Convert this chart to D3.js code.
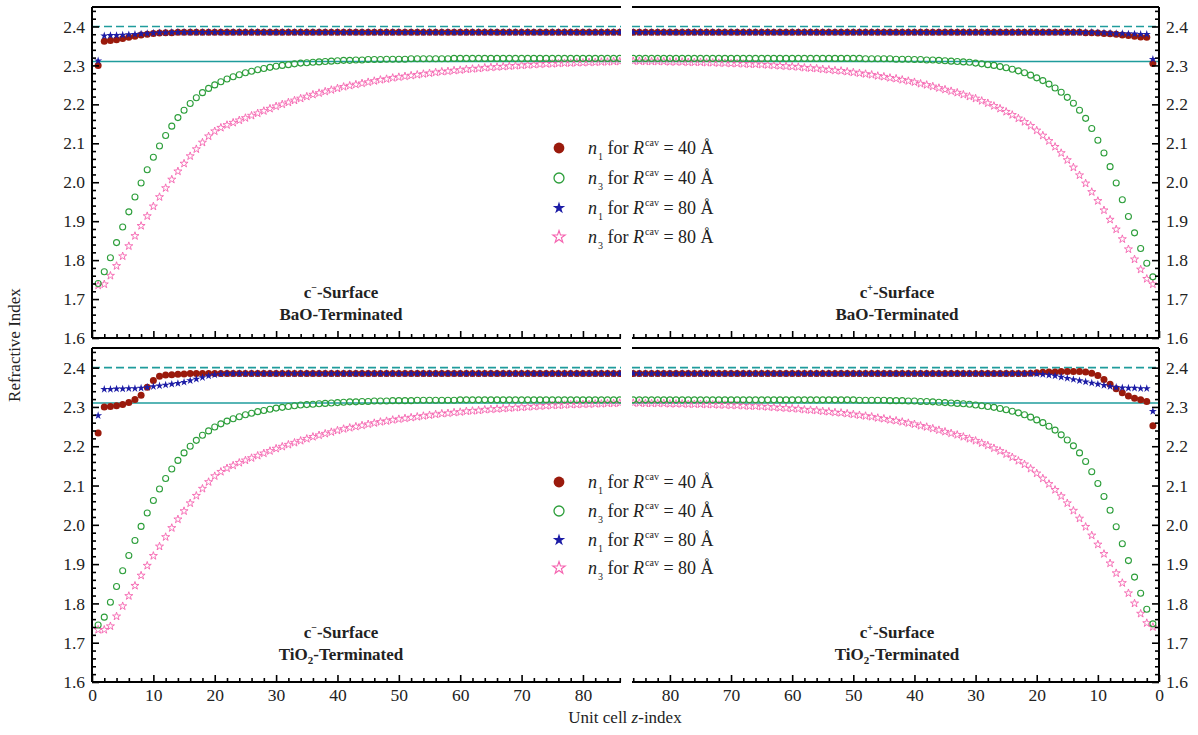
<!DOCTYPE html>
<html>
<head>
<meta charset="utf-8">
<script src="https://cdn.jsdelivr.net/npm/d3@7"></script>
<style>
  html, body { margin: 0; padding: 0; background: #fff; }
  svg { display: block; }
  text { font-family: "Liberation Serif", "Times New Roman", serif; fill: #222; }
</style>
</head>
<body>
<svg id="chart" width="1198" height="735"></svg>
<script>
// Unit-cell index along z (counted from each surface)
const zIndex = d3.range(1, 87);

// Reference refractive-index levels
const dashedLevel = 2.40;
const solidLevel = 2.31;

const yTicks = [1.6, 1.7, 1.8, 1.9, 2.0, 2.1, 2.2, 2.3, 2.4];
const xTicks = [0, 10, 20, 30, 40, 50, 60, 70, 80];

// c- surface, BaO terminated
const cmBaO_n1_40 = [2.300,2.362,2.364,2.366,2.369,2.372,2.375,2.378,2.380,2.382,
  2.383,2.384,2.384,2.385,2.385,2.385,2.385,2.385,2.385,2.385,
  2.385,2.385,2.385,2.385,2.385,2.385,2.385,2.385,2.385,2.385,
  2.385,2.385,2.385,2.385,2.385,2.385,2.385,2.385,2.385,2.385,
  2.385,2.385,2.385,2.385,2.385,2.385,2.385,2.385,2.385,2.385,
  2.385,2.385,2.385,2.385,2.385,2.385,2.385,2.385,2.385,2.385,
  2.385,2.385,2.385,2.385,2.385,2.385,2.385,2.385,2.385,2.385,
  2.385,2.385,2.385,2.385,2.385,2.385,2.385,2.385,2.385,2.385,
  2.385,2.385,2.385,2.385,2.385,2.385];
const cmBaO_n3_40 = [1.740,1.770,1.806,1.845,1.885,1.924,1.962,1.998,2.032,2.064,
  2.093,2.120,2.144,2.166,2.185,2.202,2.217,2.230,2.241,2.250,
  2.258,2.265,2.271,2.276,2.281,2.285,2.289,2.292,2.295,2.298,
  2.300,2.302,2.304,2.306,2.307,2.308,2.309,2.310,2.311,2.312,
  2.313,2.313,2.314,2.314,2.315,2.315,2.315,2.316,2.316,2.316,
  2.316,2.317,2.317,2.317,2.317,2.317,2.317,2.317,2.318,2.318,
  2.318,2.318,2.318,2.318,2.318,2.318,2.318,2.318,2.318,2.318,
  2.318,2.318,2.318,2.318,2.318,2.318,2.318,2.318,2.318,2.318,
  2.318,2.318,2.318,2.318,2.318,2.318];
const cmBaO_n1_80 = [2.312,2.376,2.377,2.377,2.378,2.379,2.380,2.381,2.382,2.383,
  2.384,2.384,2.385,2.385,2.385,2.385,2.385,2.385,2.385,2.385,
  2.385,2.385,2.385,2.385,2.385,2.385,2.385,2.385,2.385,2.385,
  2.385,2.385,2.385,2.385,2.385,2.385,2.385,2.385,2.385,2.385,
  2.385,2.385,2.385,2.385,2.385,2.385,2.385,2.385,2.385,2.385,
  2.385,2.385,2.385,2.385,2.385,2.385,2.385,2.385,2.385,2.385,
  2.385,2.385,2.385,2.385,2.385,2.385,2.385,2.385,2.385,2.385,
  2.385,2.385,2.385,2.385,2.385,2.385,2.385,2.385,2.385,2.385,
  2.385,2.385,2.385,2.385,2.385,2.385];
const cmBaO_n3_80 = [1.735,1.738,1.760,1.785,1.810,1.836,1.862,1.888,1.913,1.938,
  1.962,1.985,2.007,2.028,2.048,2.067,2.085,2.102,2.118,2.131,
  2.140,2.147,2.153,2.159,2.165,2.171,2.177,2.183,2.189,2.195,
  2.200,2.205,2.210,2.215,2.220,2.225,2.229,2.233,2.237,2.241,
  2.245,2.248,2.251,2.254,2.257,2.260,2.263,2.265,2.268,2.270,
  2.272,2.274,2.276,2.278,2.280,2.282,2.284,2.285,2.287,2.288,
  2.290,2.291,2.292,2.294,2.295,2.296,2.297,2.298,2.299,2.300,
  2.301,2.302,2.303,2.304,2.304,2.305,2.306,2.306,2.307,2.307,
  2.308,2.308,2.309,2.309,2.310,2.310];

// c+ surface, BaO terminated
const cpBaO_n1_40 = [2.305,2.372,2.373,2.375,2.377,2.378,2.380,2.381,2.382,2.383,
  2.384,2.384,2.385,2.385,2.385,2.385,2.385,2.385,2.385,2.385,
  2.385,2.385,2.385,2.385,2.385,2.385,2.385,2.385,2.385,2.385,
  2.385,2.385,2.385,2.385,2.385,2.385,2.385,2.385,2.385,2.385,
  2.385,2.385,2.385,2.385,2.385,2.385,2.385,2.385,2.385,2.385,
  2.385,2.385,2.385,2.385,2.385,2.385,2.385,2.385,2.385,2.385,
  2.385,2.385,2.385,2.385,2.385,2.385,2.385,2.385,2.385,2.385,
  2.385,2.385,2.385,2.385,2.385,2.385,2.385,2.385,2.385,2.385,
  2.385,2.385,2.385,2.385,2.385,2.385];
const cpBaO_n3_40 = [1.757,1.792,1.830,1.870,1.912,1.955,1.998,2.040,2.075,2.108,
  2.138,2.164,2.185,2.203,2.218,2.231,2.242,2.252,2.261,2.268,
  2.275,2.281,2.286,2.290,2.294,2.297,2.300,2.302,2.304,2.306,
  2.308,2.309,2.310,2.311,2.312,2.313,2.314,2.314,2.315,2.315,
  2.316,2.316,2.316,2.317,2.317,2.317,2.317,2.317,2.318,2.318,
  2.318,2.318,2.318,2.318,2.318,2.318,2.318,2.318,2.318,2.318,
  2.318,2.318,2.318,2.318,2.318,2.318,2.318,2.318,2.318,2.318,
  2.318,2.318,2.318,2.318,2.318,2.318,2.318,2.318,2.318,2.318,
  2.318,2.318,2.318,2.318,2.318,2.318];
const cpBaO_n1_80 = [2.316,2.380,2.380,2.381,2.381,2.382,2.382,2.383,2.384,2.384,
  2.385,2.385,2.385,2.385,2.385,2.385,2.385,2.385,2.385,2.385,
  2.385,2.385,2.385,2.385,2.385,2.385,2.385,2.385,2.385,2.385,
  2.385,2.385,2.385,2.385,2.385,2.385,2.385,2.385,2.385,2.385,
  2.385,2.385,2.385,2.385,2.385,2.385,2.385,2.385,2.385,2.385,
  2.385,2.385,2.385,2.385,2.385,2.385,2.385,2.385,2.385,2.385,
  2.385,2.385,2.385,2.385,2.385,2.385,2.385,2.385,2.385,2.385,
  2.385,2.385,2.385,2.385,2.385,2.385,2.385,2.385,2.385,2.385,
  2.385,2.385,2.385,2.385,2.385,2.385];
const cpBaO_n3_80 = [1.738,1.752,1.776,1.802,1.828,1.854,1.879,1.904,1.928,1.952,
  1.975,1.997,2.018,2.038,2.057,2.075,2.091,2.106,2.120,2.133,
  2.145,2.155,2.164,2.173,2.181,2.189,2.196,2.203,2.209,2.215,
  2.220,2.225,2.230,2.234,2.238,2.242,2.246,2.250,2.253,2.257,
  2.260,2.263,2.266,2.268,2.271,2.273,2.276,2.278,2.280,2.282,
  2.284,2.286,2.287,2.289,2.290,2.292,2.293,2.294,2.296,2.297,
  2.298,2.299,2.300,2.301,2.302,2.303,2.303,2.304,2.305,2.305,
  2.306,2.306,2.307,2.307,2.308,2.308,2.308,2.309,2.309,2.309,
  2.310,2.310,2.310,2.310,2.311,2.311];

// c- surface, TiO2 terminated
const cmTiO2_n1_40 = [2.234,2.300,2.301,2.303,2.306,2.311,2.319,2.330,2.350,2.367,
  2.378,2.381,2.382,2.383,2.384,2.385,2.385,2.385,2.385,2.385,
  2.385,2.385,2.385,2.385,2.385,2.385,2.385,2.385,2.385,2.385,
  2.385,2.385,2.385,2.385,2.385,2.385,2.385,2.385,2.385,2.385,
  2.385,2.385,2.385,2.385,2.385,2.385,2.385,2.385,2.385,2.385,
  2.385,2.385,2.385,2.385,2.385,2.385,2.385,2.385,2.385,2.385,
  2.385,2.385,2.385,2.385,2.385,2.385,2.385,2.385,2.385,2.385,
  2.385,2.385,2.385,2.385,2.385,2.385,2.385,2.385,2.385,2.385,
  2.385,2.385,2.385,2.385,2.385,2.385];
const cmTiO2_n3_40 = [1.745,1.765,1.803,1.843,1.883,1.922,1.960,1.996,2.030,2.062,
  2.091,2.118,2.142,2.164,2.183,2.200,2.215,2.228,2.239,2.249,
  2.257,2.264,2.270,2.275,2.280,2.284,2.288,2.291,2.294,2.297,
  2.299,2.301,2.303,2.305,2.306,2.307,2.308,2.309,2.310,2.311,
  2.312,2.313,2.313,2.314,2.314,2.315,2.315,2.315,2.316,2.316,
  2.316,2.316,2.317,2.317,2.317,2.317,2.317,2.317,2.317,2.318,
  2.318,2.318,2.318,2.318,2.318,2.318,2.318,2.318,2.318,2.318,
  2.318,2.318,2.318,2.318,2.318,2.318,2.318,2.318,2.318,2.318,
  2.318,2.318,2.318,2.318,2.318,2.318];
const cmTiO2_n1_80 = [2.278,2.345,2.345,2.346,2.346,2.347,2.347,2.348,2.350,2.352,
  2.354,2.356,2.358,2.360,2.363,2.367,2.371,2.375,2.379,2.382,
  2.384,2.385,2.385,2.385,2.385,2.385,2.385,2.385,2.385,2.385,
  2.385,2.385,2.385,2.385,2.385,2.385,2.385,2.385,2.385,2.385,
  2.385,2.385,2.385,2.385,2.385,2.385,2.385,2.385,2.385,2.385,
  2.385,2.385,2.385,2.385,2.385,2.385,2.385,2.385,2.385,2.385,
  2.385,2.385,2.385,2.385,2.385,2.385,2.385,2.385,2.385,2.385,
  2.385,2.385,2.385,2.385,2.385,2.385,2.385,2.385,2.385,2.385,
  2.385,2.385,2.385,2.385,2.385,2.385];
const cmTiO2_n3_80 = [1.733,1.733,1.742,1.767,1.793,1.819,1.845,1.871,1.896,1.921,
  1.945,1.969,1.992,2.014,2.035,2.055,2.074,2.092,2.109,2.124,
  2.135,2.144,2.151,2.158,2.164,2.170,2.176,2.182,2.188,2.194,
  2.199,2.204,2.209,2.214,2.219,2.224,2.228,2.232,2.236,2.240,
  2.244,2.247,2.250,2.253,2.256,2.259,2.262,2.264,2.267,2.269,
  2.271,2.273,2.275,2.277,2.279,2.281,2.283,2.284,2.286,2.287,
  2.289,2.290,2.291,2.293,2.294,2.295,2.296,2.297,2.298,2.299,
  2.300,2.301,2.302,2.303,2.304,2.304,2.305,2.306,2.306,2.307,
  2.307,2.308,2.308,2.309,2.309,2.310];

// c+ surface, TiO2 terminated
const cpTiO2_n1_40 = [2.252,2.314,2.318,2.322,2.328,2.336,2.346,2.358,2.370,2.380,
  2.386,2.389,2.390,2.390,2.390,2.390,2.389,2.389,2.388,2.387,
  2.386,2.385,2.385,2.385,2.385,2.385,2.385,2.385,2.385,2.385,
  2.385,2.385,2.385,2.385,2.385,2.385,2.385,2.385,2.385,2.385,
  2.385,2.385,2.385,2.385,2.385,2.385,2.385,2.385,2.385,2.385,
  2.385,2.385,2.385,2.385,2.385,2.385,2.385,2.385,2.385,2.385,
  2.385,2.385,2.385,2.385,2.385,2.385,2.385,2.385,2.385,2.385,
  2.385,2.385,2.385,2.385,2.385,2.385,2.385,2.385,2.385,2.385,
  2.385,2.385,2.385,2.385,2.385,2.385];
const cpTiO2_n3_40 = [1.748,1.785,1.826,1.867,1.909,1.952,1.995,2.037,2.072,2.105,
  2.135,2.161,2.183,2.201,2.216,2.229,2.241,2.251,2.260,2.267,
  2.274,2.280,2.285,2.289,2.293,2.296,2.299,2.301,2.303,2.305,
  2.307,2.308,2.309,2.310,2.311,2.312,2.313,2.314,2.314,2.315,
  2.315,2.316,2.316,2.316,2.317,2.317,2.317,2.317,2.317,2.318,
  2.318,2.318,2.318,2.318,2.318,2.318,2.318,2.318,2.318,2.318,
  2.318,2.318,2.318,2.318,2.318,2.318,2.318,2.318,2.318,2.318,
  2.318,2.318,2.318,2.318,2.318,2.318,2.318,2.318,2.318,2.318,
  2.318,2.318,2.318,2.318,2.318,2.318];
const cpTiO2_n1_80 = [2.289,2.347,2.347,2.348,2.348,2.349,2.350,2.352,2.355,2.358,
  2.361,2.364,2.367,2.370,2.373,2.376,2.379,2.381,2.383,2.384,
  2.385,2.385,2.385,2.385,2.385,2.385,2.385,2.385,2.385,2.385,
  2.385,2.385,2.385,2.385,2.385,2.385,2.385,2.385,2.385,2.385,
  2.385,2.385,2.385,2.385,2.385,2.385,2.385,2.385,2.385,2.385,
  2.385,2.385,2.385,2.385,2.385,2.385,2.385,2.385,2.385,2.385,
  2.385,2.385,2.385,2.385,2.385,2.385,2.385,2.385,2.385,2.385,
  2.385,2.385,2.385,2.385,2.385,2.385,2.385,2.385,2.385,2.385,
  2.385,2.385,2.385,2.385,2.385,2.385];
const cpTiO2_n3_80 = [1.740,1.750,1.774,1.800,1.826,1.852,1.877,1.902,1.926,1.950,
  1.973,1.995,2.016,2.036,2.055,2.073,2.089,2.104,2.118,2.131,
  2.143,2.154,2.163,2.172,2.180,2.188,2.195,2.202,2.208,2.214,
  2.219,2.224,2.229,2.233,2.237,2.241,2.245,2.249,2.252,2.256,
  2.259,2.262,2.265,2.267,2.270,2.272,2.275,2.277,2.279,2.281,
  2.283,2.285,2.286,2.288,2.289,2.291,2.292,2.293,2.295,2.296,
  2.297,2.298,2.299,2.300,2.301,2.302,2.302,2.303,2.304,2.304,
  2.305,2.305,2.306,2.306,2.307,2.307,2.307,2.308,2.308,2.308,
  2.309,2.309,2.309,2.309,2.310,2.310];

const seriesStyle = [
  { key: "n1_40", sub: "1", r: "40", color: "#9a1a0c", shape: "dot" },
  { key: "n3_40", sub: "3", r: "40", color: "#2c9e3a", shape: "ring" },
  { key: "n1_80", sub: "1", r: "80", color: "#1c1ca6", shape: "star" },
  { key: "n3_80", sub: "3", r: "80", color: "#f564b0", shape: "openstar" }
];

const panels = [
  { row: 0, side: "left", sign: "−", term: "BaO", data: { n1_40: cmBaO_n1_40, n3_40: cmBaO_n3_40, n1_80: cmBaO_n1_80, n3_80: cmBaO_n3_80 } },
  { row: 0, side: "right", sign: "+", term: "BaO", data: { n1_40: cpBaO_n1_40, n3_40: cpBaO_n3_40, n1_80: cpBaO_n1_80, n3_80: cpBaO_n3_80 } },
  { row: 1, side: "left", sign: "−", term: "TiO2", data: { n1_40: cmTiO2_n1_40, n3_40: cmTiO2_n3_40, n1_80: cmTiO2_n1_80, n3_80: cmTiO2_n3_80 } },
  { row: 1, side: "right", sign: "+", term: "TiO2", data: { n1_40: cpTiO2_n1_40, n3_40: cpTiO2_n3_40, n1_80: cpTiO2_n1_80, n3_80: cpTiO2_n3_80 } }
];

const svg = d3.select("#chart");
const W = 1198, H = 735;
svg.append("rect").attr("width", W).attr("height", H).attr("fill", "#fff");

const rows = [ { top: 7, bottom: 338 }, { top: 348, bottom: 682 } ];
const halves = { left: { outer: 92, inner: 621 }, right: { outer: 1159, inner: 632 } };
const zMax = 86.2;
const teal = "#1f9c9c";

const starSmall = d3.symbol().type(d3.symbolStar).size(20)();
const starLegend = d3.symbol().type(d3.symbolStar).size(48)();

function drawMarker(g, style, cx, cy, big) {
  const r = big ? 5.4 : 3.5;
  if (style.shape === "dot") {
    g.append("circle").attr("cx", cx).attr("cy", cy).attr("r", r).attr("fill", style.color);
  } else if (style.shape === "ring") {
    g.append("circle").attr("cx", cx).attr("cy", cy).attr("r", big ? 5 : 3.0)
      .attr("fill", "none").attr("stroke", style.color).attr("stroke-width", big ? 1.3 : 1.1);
  } else if (style.shape === "star") {
    g.append("path").attr("d", big ? starLegend : starSmall)
      .attr("transform", `translate(${cx},${cy})`).attr("fill", style.color);
  } else {
    g.append("path").attr("d", big ? starLegend : starSmall)
      .attr("transform", `translate(${cx},${cy})`).attr("fill", "none")
      .attr("stroke", style.color).attr("stroke-width", big ? 1.1 : 0.9);
  }
}

const defs = svg.append("defs");

panels.forEach((p, i) => {
  const rw = rows[p.row];
  const hv = halves[p.side];
  const x = d3.scaleLinear().domain([0, zMax]).range([hv.outer, hv.inner]);
  const y = d3.scaleLinear().domain([1.6, 2.45]).range([rw.bottom, rw.top]);
  const g = svg.append("g");

  const x0 = Math.min(hv.outer, hv.inner), x1 = Math.max(hv.outer, hv.inner);
  defs.append("clipPath").attr("id", "clip" + i).append("rect")
    .attr("x", p.side === "left" ? x0 - 10 : x0).attr("y", rw.top)
    .attr("width", x1 - x0 + 10).attr("height", rw.bottom - rw.top);

  const plot = g.append("g").attr("clip-path", `url(#clip${i})`);

  // reference levels
  plot.append("line").attr("x1", x0).attr("x2", x1)
    .attr("y1", y(solidLevel)).attr("y2", y(solidLevel))
    .attr("stroke", teal).attr("stroke-width", 1.6);
  plot.append("line").attr("x1", x0).attr("x2", x1)
    .attr("y1", y(dashedLevel)).attr("y2", y(dashedLevel))
    .attr("stroke", teal).attr("stroke-width", 1.6).attr("stroke-dasharray", "8,4");

  // series, drawn back to front
  ["n3_80", "n3_40", "n1_40", "n1_80"].forEach(key => {
    const st = seriesStyle.find(s => s.key === key);
    const vals = p.data[key];
    const sg = plot.append("g");
    zIndex.forEach((z, k) => drawMarker(sg, st, x(z), y(vals[k]), false));
  });

  // axes: bottom (inward ticks), outer vertical (inward ticks)
  const minorX = d3.range(0, 87, 2).filter(v => v % 10 !== 0);
  const bottomMajor = d3.axisBottom(x).tickValues(xTicks).tickSize(-7).tickPadding(6)
    .tickFormat(p.row === 1 ? d3.format("d") : () => "");
  const bottomMinor = d3.axisBottom(x).tickValues(minorX).tickSize(-4).tickFormat(() => "");
  const gx = g.append("g").attr("transform", `translate(0,${rw.bottom})`).call(bottomMajor);
  const gxm = g.append("g").attr("transform", `translate(0,${rw.bottom})`).call(bottomMinor);

  const yMinor = d3.range(1.62, 2.45, 0.02).filter(v => Math.abs(v * 10 - Math.round(v * 10)) > 0.01);
  const axisFn = p.side === "left" ? d3.axisLeft : d3.axisRight;
  const yMajor = axisFn(y).tickValues(yTicks).tickSize(-7).tickPadding(7).tickFormat(d3.format(".1f"));
  const yMin = axisFn(y).tickValues(yMinor).tickSize(-4).tickFormat(() => "");
  const gy = g.append("g").attr("transform", `translate(${hv.outer},0)`).call(yMajor);
  const gym = g.append("g").attr("transform", `translate(${hv.outer},0)`).call(yMin);

  [gx, gxm, gy, gym].forEach(a => {
    a.select(".domain").remove();
    a.selectAll(".tick line").attr("stroke", "#000").attr("stroke-width", 1.6);
    a.selectAll(".tick text").attr("font-family", "Liberation Serif, serif")
      .attr("font-size", 17.5).attr("fill", "#222");
  });
  gx.selectAll(".tick text").attr("dy", "0.75em");

  // frame lines
  g.append("line").attr("x1", x0).attr("x2", x1).attr("y1", rw.top).attr("y2", rw.top)
    .attr("stroke", "#000").attr("stroke-width", 2);
  g.append("line").attr("x1", x0).attr("x2", x1).attr("y1", rw.bottom).attr("y2", rw.bottom)
    .attr("stroke", "#000").attr("stroke-width", 2);
  g.append("line").attr("x1", hv.outer).attr("x2", hv.outer).attr("y1", rw.top).attr("y2", rw.bottom)
    .attr("stroke", "#000").attr("stroke-width", 2);

  // panel caption
  const cx = p.side === "left" ? 341 : 897;
  const cy = p.row === 0 ? 298 : 638;
  const cap = g.append("text").attr("x", cx).attr("y", cy).attr("text-anchor", "middle")
    .attr("font-size", 17).attr("font-weight", "bold").attr("fill", "#111");
  cap.append("tspan").text("c");
  cap.append("tspan").attr("dy", -7).attr("font-size", 10).text(p.sign);
  cap.append("tspan").attr("dy", 7).text("-Surface");
  const term = g.append("text").attr("x", cx).attr("y", cy + 22).attr("text-anchor", "middle")
    .attr("font-size", 17).attr("font-weight", "bold").attr("fill", "#111");
  if (p.term === "TiO2") {
    term.append("tspan").text("TiO");
    term.append("tspan").attr("dy", 4).attr("font-size", 11).text("2");
    term.append("tspan").attr("dy", -4).text("-Terminated");
  } else {
    term.text("BaO-Terminated");
  }
});

// legends, one per row
[[148, 178, 208, 237], [482, 511, 540, 568]].forEach(ys => {
  seriesStyle.forEach((st, k) => {
    const cy = ys[k];
    drawMarker(svg, st, 559, cy, true);
    const t = svg.append("text").attr("x", 588).attr("y", cy + 6).attr("font-size", 18).attr("fill", "#111");
    t.append("tspan").attr("font-style", "italic").text("n");
    t.append("tspan").attr("dy", 6).attr("dx", 1).attr("font-size", 10).text(st.sub);
    t.append("tspan").attr("dy", -6).text(" for ");
    t.append("tspan").attr("font-style", "italic").text("R");
    t.append("tspan").attr("dy", -8).attr("dx", 1).attr("font-size", 10).text("cav");
    t.append("tspan").attr("dy", 8).text(" = " + st.r + " Å");
  });
});

// axis titles
svg.append("text").attr("transform", "translate(20,345) rotate(-90)")
  .attr("text-anchor", "middle").attr("font-size", 17).attr("fill", "#222").text("Refractive Index");
const xt = svg.append("text").attr("x", 625).attr("y", 723).attr("text-anchor", "middle")
  .attr("font-size", 17).attr("fill", "#222");
xt.append("tspan").text("Unit cell ");
xt.append("tspan").attr("font-style", "italic").text("z");
xt.append("tspan").text("-index");
</script>
</body>
</html>
